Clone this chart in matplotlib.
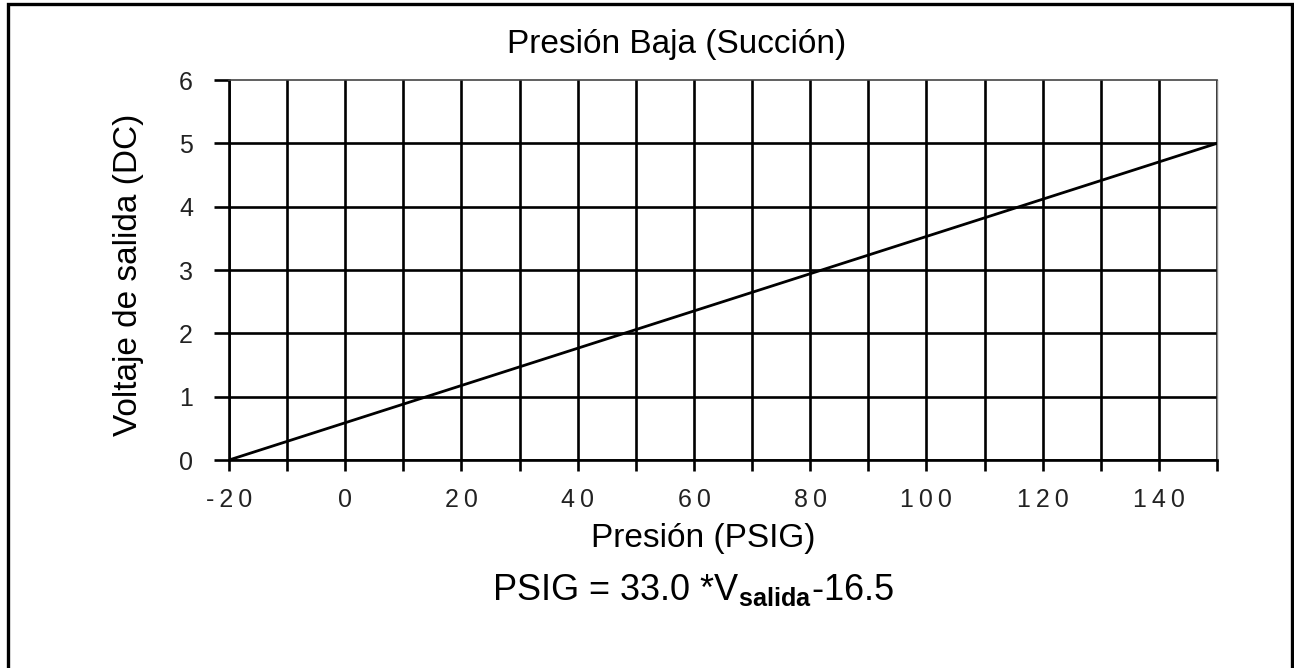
import matplotlib
matplotlib.use("Agg")
import matplotlib.pyplot as plt
from matplotlib.patches import Rectangle

plt.rcParams['font.family'] = ['Liberation Sans', 'DejaVu Sans']
plt.rcParams['mathtext.fontset'] = 'custom'
plt.rcParams['mathtext.rm'] = 'Liberation Sans'
plt.rcParams['mathtext.bf'] = 'Liberation Sans:bold'

# data
presion = [-20, 150]
voltaje = [0, 5]
x_ticks = [-20, 0, 20, 40, 60, 80, 100, 120, 140]
x_grid = list(range(-20, 151, 10))
y_ticks = [0, 1, 2, 3, 4, 5, 6]

W, H = 1294, 668
fig = plt.figure(figsize=(W / 100, H / 100), dpi=100)

# outer frame
fig.patches.append(Rectangle((8 / W, -0.05), (1292 - 8) / W, 1.05 - 4 / H,
                             transform=fig.transFigure, fill=False,
                             edgecolor='black', linewidth=2.4))

ax = fig.add_axes([229 / W, 1 - 460 / H, (1217 - 229) / W, (460 - 80) / H])
ax.set_xlim(-20, 150)
ax.set_ylim(0, 6)

# grid
for xv in x_grid:
    ax.axvline(xv, color='black', lw=1.9, zorder=1)
for yv in y_ticks[:-1]:
    ax.axhline(yv, color='black', lw=1.9, zorder=1)

ax.plot(presion, voltaje, color='black', lw=2.0, zorder=3)

for s in ['left', 'bottom']:
    ax.spines[s].set_linewidth(1.9)
ax.spines['top'].set_linewidth(1.2)
ax.spines['top'].set_color('#444444')
ax.spines['right'].set_linewidth(1.0)
ax.spines['right'].set_color('#888888')

# spaced-out digits like the original
ax.set_xticks(x_grid)
ax.set_xticklabels(['\u2009'.join(str(v)) if v in x_ticks else '' for v in x_grid],
                   fontsize=18, color='#222222')
ax.set_yticks(y_ticks)
ax.set_yticklabels([str(v) for v in y_ticks], fontsize=18, color='#222222')
ax.tick_params(axis='x', direction='out', length=8, width=1.9, pad=12)
ax.tick_params(axis='y', direction='out', length=11, width=1.9, pad=15)

fig.text(677 / W, 1 - 45 / H, 'Presión Baja (Succión)', ha='center', va='center', fontsize=24)
fig.text(703 / W, 1 - 538 / H, 'Presión (PSIG)', ha='center', va='center', fontsize=24)
fig.text(128 / W, 1 - 275 / H, 'Voltaje de salida (DC)', ha='center', va='center',
         rotation=90, fontsize=24)
fig.text(693 / W, 1 - 590 / H, r'PSIG = 33.0 *V$_{\mathbf{salida}}$-16.5',
         ha='center', va='center', fontsize=26)

fig.savefig('out.png', dpi=100)
